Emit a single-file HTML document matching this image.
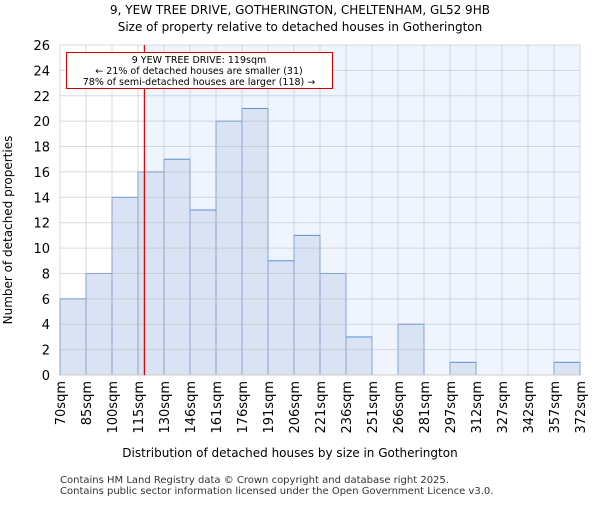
<!DOCTYPE html>
<html><head><meta charset="utf-8"><style>body{margin:0;background:#fff}svg{font-family:"DejaVu Sans","Liberation Sans",sans-serif}</style></head>
<body>
<svg width="600" height="500">
<text x="300" y="14" text-anchor="middle" font-size="12">9, YEW TREE DRIVE, GOTHERINGTON, CHELTENHAM, GL52 9HB</text>
<text x="300" y="31" text-anchor="middle" font-size="12">Size of property relative to detached houses in Gotherington</text>
<g id="plot"></g>
<text x="290" y="457" text-anchor="middle" font-size="12">Distribution of detached houses by size in Gotherington</text>
<text transform="translate(12,230) rotate(-90)" text-anchor="middle" font-size="12">Number of detached properties</text>
<text x="60" y="483" font-size="10" fill="#333">Contains HM Land Registry data © Crown copyright and database right 2025.</text>
<text x="60" y="494" font-size="10" fill="#333">Contains public sector information licensed under the Open Government Licence v3.0.</text>
</svg>
<script>
const binLabels=["70sqm","85sqm","100sqm","115sqm","130sqm","146sqm","161sqm","176sqm","191sqm","206sqm","221sqm","236sqm","251sqm","266sqm","281sqm","297sqm","312sqm","327sqm","342sqm","357sqm","372sqm"];
const counts=[6,8,14,16,17,13,20,21,9,11,8,3,0,4,0,1,0,0,0,1];
const yTicks=[0,2,4,6,8,10,12,14,16,18,20,22,24,26];
const propertySize=119;
const binStart=70, binWidthSqm=15.1;
const X0=60,X1=580,Y0=375,Y1=45,YMAX=26;
const bw=(X1-X0)/counts.length;
const xs=i=>X0+i*bw;
const ys=v=>Y0-(v/YMAX)*(Y0-Y1);
const ns="http://www.w3.org/2000/svg";
const g=document.getElementById('plot');
function mk(t,a){const e=document.createElementNS(ns,t);for(const k in a)e.setAttribute(k,a[k]);g.appendChild(e);return e;}
const lx=xs(0)+((propertySize-binStart)/binWidthSqm)*bw;
const bg=mk('rect',{x:lx,y:Y1,width:X1-lx,height:Y0-Y1,fill:'#f0f4fc'});


counts.forEach((c,i)=>{if(!c)return;
const r=mk('rect',{x:xs(i),y:ys(c),width:bw,height:Y0-ys(c),fill:'#dae3f3',stroke:'#5b8fd6','stroke-width':1});

});
yTicks.forEach(t=>{const l=mk('line',{x1:X0,x2:X1,y1:ys(t),y2:ys(t),stroke:'#b0b8c8','stroke-opacity':0.5});


const tx=mk('text',{x:X0-10,y:ys(t)+5,'text-anchor':'end','font-size':13});tx.textContent=t;

});
binLabels.forEach((b,i)=>{const x=xs(i);
const l=mk('line',{x1:x,x2:x,y1:Y1,y2:Y0,stroke:'#b0b8c8','stroke-opacity':0.5});


const tx=mk('text',{transform:`translate(${x+5},381) rotate(-90)`,'text-anchor':'end','font-size':13});tx.textContent=b;

});
const ax=mk('line',{x1:X0,x2:X1,y1:Y0,y2:Y0,stroke:'#ccc'});


const ml=mk('line',{x1:lx,x2:lx,y1:Y1,y2:Y0,stroke:'#d00','stroke-width':1.2});


const box=mk('rect',{x:66.5,y:52.5,width:266,height:36,fill:'#fff',stroke:'#c00'});


["9 YEW TREE DRIVE: 119sqm","← 21% of detached houses are smaller (31)","78% of semi-detached houses are larger (118) →"].forEach((s,i)=>{
const t=mk('text',{x:199,y:63+i*11,'text-anchor':'middle','font-size':9.5});t.textContent=s;

});
</script>
</body></html>
